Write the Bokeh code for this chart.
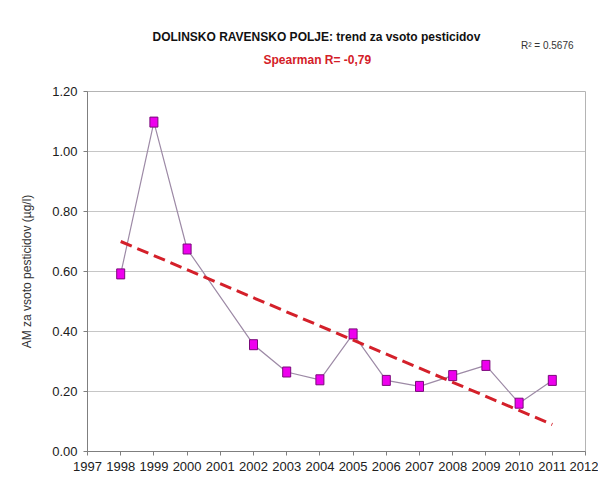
from bokeh.plotting import figure
from bokeh.models import FixedTicker, NumeralTickFormatter, Range1d, Title
from bokeh.embed import file_html
from bokeh.resources import INLINE

years = [1998, 1999, 2000, 2002, 2003, 2004, 2005, 2006, 2007, 2008, 2009, 2010, 2011]
values = [0.592, 1.098, 0.675, 0.356, 0.265, 0.239, 0.392, 0.237, 0.217, 0.253, 0.287, 0.161, 0.237]
trend_years = [1998, 2011]
trend_values = [0.70, 0.09]
x_ticks = list(range(1997, 2013))
y_ticks = [0.0, 0.2, 0.4, 0.6, 0.8, 1.0, 1.2]

title_text = "DOLINSKO RAVENSKO  POLJE: trend za vsoto pesticidov"
subtitle_text = "Spearman R= -0,79"
r2_text = "R² = 0.5676"
ylabel_text = "AM za vsoto pesticidov (µg/l)"

FONT = "Liberation Sans"

p = figure(width=598, height=496, output_backend="svg", toolbar_location=None,
           x_range=Range1d(1997, 2012), y_range=Range1d(0, 1.2),
           min_border_left=87, min_border_right=13, min_border_top=91, min_border_bottom=45)

p.outline_line_color = "#b4b4b4"
p.outline_line_width = 1
p.background_fill_color = "white"
p.border_fill_color = "white"

# main title is the outermost row; added titles stack from the frame outward
p.title.text = title_text
p.title.align = "left"
p.title.offset = 65
p.title.standoff = -12
p.title.text_font = FONT
p.title.text_font_size = "12px"
p.title.text_font_style = "bold"
p.title.text_color = "#111111"

# spacer row between the frame and the subtitle
p.add_layout(Title(text=" ", text_font_size="1px", standoff=22), "above")
p.add_layout(Title(text=subtitle_text, align="left", offset=176, standoff=0, text_font=FONT,
                   text_font_size="12px", text_font_style="bold",
                   text_color="#d42028"), "above")
p.add_layout(Title(text=r2_text, align="right", offset=12, standoff=0, text_font=FONT,
                   text_font_size="10px", text_font_style="normal",
                   text_color="#333333"), "above")

p.xgrid.grid_line_color = None
p.ygrid.grid_line_color = "#8c8c8c"
p.ygrid.grid_line_dash = "1 1"
p.ygrid.grid_line_width = 1

p.xaxis.ticker = FixedTicker(ticks=x_ticks)
p.yaxis.ticker = FixedTicker(ticks=y_ticks)
p.yaxis.formatter = NumeralTickFormatter(format="0.00")
for ax in (p.xaxis[0], p.yaxis[0]):
    ax.axis_line_color = "#7f7f7f"
    ax.major_tick_line_color = "#7f7f7f"
    ax.major_tick_in = 0
    ax.major_tick_out = 4
    ax.minor_tick_line_color = None
    ax.major_label_text_font = FONT
    ax.major_label_text_font_size = "13px"
    ax.major_label_text_color = "#202020"
p.yaxis.major_label_standoff = 6
p.xaxis.major_label_standoff = 6
p.yaxis.axis_label = ylabel_text
p.yaxis.axis_label_text_font = FONT
p.yaxis.axis_label_text_font_size = "12px"
p.yaxis.axis_label_text_font_style = "normal"
p.yaxis.axis_label_text_color = "#333333"
p.yaxis.axis_label_standoff = 15

p.line(years, values, line_color="#9d8aa6", line_width=1.2)
p.rect(years, values, width=8, height=10, width_units="screen", height_units="screen",
       fill_color="#ee00ee", line_color="#7a0a7a", line_width=1)
p.line(trend_years, trend_values, line_color="#d4202a", line_width=3, line_dash="12 6")

open("out.html", "w").write(file_html(p, INLINE))
